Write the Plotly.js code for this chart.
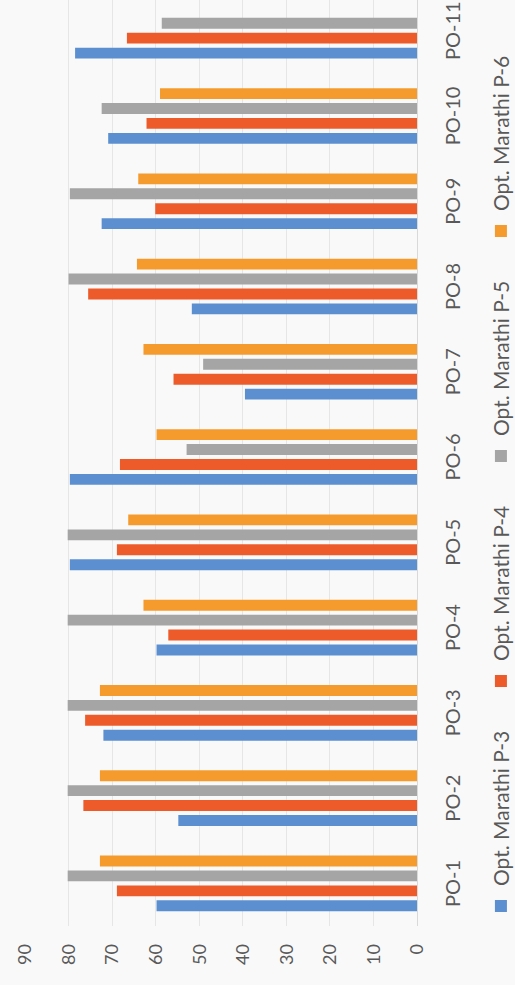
<!DOCTYPE html>
<html>
<head>
<meta charset="utf-8">
<script src="https://cdn.plot.ly/plotly-3.0.1.min.js"></script>
<style>
  html, body { margin: 0; padding: 0; width: 515px; height: 985px; overflow: hidden; background: #f9f9f9; }
  #chart {
    position: absolute; left: 0; top: 0;
    width: 985px; height: 515px;
    transform-origin: 0 0;
    transform: translate(0px, 985px) rotate(-90deg);
  }
</style>
</head>
<body>
<div id="chart"></div>
<script>
const categories = ["PO-1", "PO-2", "PO-3", "PO-4", "PO-5", "PO-6", "PO-7", "PO-8", "PO-9", "PO-10", "PO-11"];
const seriesNames = ["Opt. Marathi P-3", "Opt. Marathi P-4", "Opt. Marathi P-5", "Opt. Marathi P-6"];
const p3 = [59.8, 54.8, 72.0, 59.8, 79.7, 79.7, 39.5, 51.7, 72.4, 70.9, 78.5];
const p4 = [68.9, 76.6, 76.2, 57.1, 68.9, 68.2, 55.9, 75.5, 60.1, 62.1, 66.6];
const p5 = [80.2, 80.2, 80.2, 80.2, 80.2, 52.9, 49.1, 80.0, 79.7, 72.4, 58.6];
const p6 = [72.8, 72.8, 72.8, 62.8, 66.3, 59.8, 62.8, 64.3, 64.0, 59.0, null];
const valueTicks = [0, 10, 20, 30, 40, 50, 60, 70, 80, 90];

const colors = ["#5B8FD0", "#EE5B2B", "#A5A5A5", "#F59B2D"];
const series = [p3, p4, p5, p6];

const traces = series.map((vals, i) => ({
  type: "bar",
  name: seriesNames[i],
  x: categories,
  y: vals,
  marker: { color: colors[i] },
  hoverinfo: "skip"
}));

const layout = {
  width: 985,
  height: 515,
  paper_bgcolor: "#f9f9f9",
  plot_bgcolor: "#f9f9f9",
  font: { family: "Lato, 'Open Sans', sans-serif", color: "#595959" },
  margin: { l: 59, r: 0, t: 25, b: 98, autoexpand: false },
  barmode: "group",
  bargap: 0.30,
  bargroupgap: 0.27,
  showlegend: true,
  legend: {
    orientation: "h",
    x: 0.0, xanchor: "left",
    y: -0.215, yanchor: "middle",
    entrywidth: 180,
    font: { size: 21, color: "#595959" },
    bgcolor: "rgba(0,0,0,0)"
  },
  xaxis: {
    type: "category",
    range: [-0.5, 10.36],
    showgrid: false,
    showline: true,
    linecolor: "#d9d9d9",
    ticks: "",
    ticklabelstandoff: 18,
    tickfont: { size: 20, color: "#595959" }
  },
  yaxis: {
    range: [0, 90],
    tickvals: valueTicks,
    ticktext: valueTicks.map(String),
    showgrid: true,
    gridcolor: "#e6e6e6",
    zeroline: false,
    showline: false,
    ticks: "",
    ticklabelstandoff: 17,
    tickfont: { size: 18, color: "#595959" }
  }
};

Plotly.newPlot("chart", traces, layout, { displayModeBar: false, staticPlot: true });
</script>
</body>
</html>
